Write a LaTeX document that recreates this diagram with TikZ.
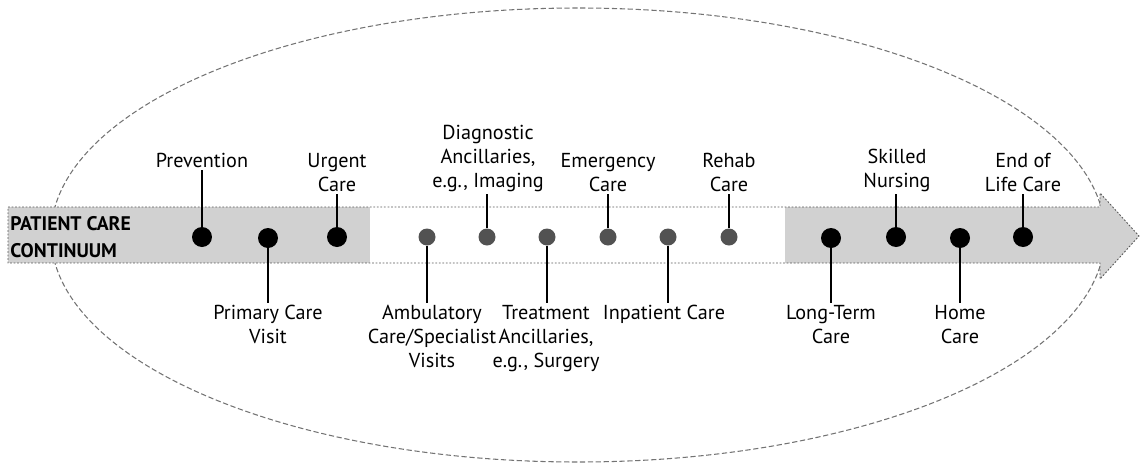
\documentclass[tikz,border=0pt]{standalone}
\usepackage{fontspec}
\setmainfont{PT Sans}
\begin{document}
\begin{tikzpicture}[x=0.02cm,y=-0.02cm,
  lbl/.style={font=\fontsize{11.5pt}{13.7pt}\selectfont, align=center, inner sep=1pt},
  bdot/.style={circle, fill=black, minimum size=0.4cm, inner sep=0pt},
  gdot/.style={circle, fill=black!68, minimum size=0.34cm, inner sep=0pt},
  stem/.style={line width=1.5pt},
  gstem/.style={line width=1.2pt},
  band/.style={fill=black!18, draw=none},
  bandedge/.style={draw=black!65, line width=0.5pt, dash pattern=on 1pt off 1pt},
  oval/.style={draw=black!55, line width=0.6pt, dash pattern=on 3pt off 1.5pt}
]
\useasboundingbox (0,0) rectangle (1140,467);
% ellipse
\draw[oval] (578,235) ellipse [x radius=527, y radius=227];
% band
\fill[band] (8,207) rectangle (370,263);
\fill[band] (785,207) -- (1100,207) -- (1100,193) -- (1139,236) -- (1100,279) -- (1100,263) -- (785,263) -- cycle;
\draw[bandedge] (8,207) -- (1100,207) -- (1100,193) -- (1139,236) -- (1100,279) -- (1100,263) -- (8,263) -- cycle;
\node[anchor=west, align=left, font=\bfseries\fontsize{11.2pt}{15pt}\selectfont, inner sep=0pt] (title) at (10,237) {PATIENT CARE\\CONTINUUM};
% dots
\node[bdot] (d1) at (202,237) {};
\node[bdot] (d2) at (268,238) {};
\node[bdot] (d3) at (337,237) {};
\node[gdot] (d4) at (427,237) {};
\node[gdot] (d5) at (487,237) {};
\node[gdot] (d6) at (547,237) {};
\node[gdot] (d7) at (608,237) {};
\node[gdot] (d8) at (668,237) {};
\node[gdot] (d9) at (729,237) {};
\node[bdot] (d10) at (831,238) {};
\node[bdot] (d11) at (896,237) {};
\node[bdot] (d12) at (960,238) {};
\node[bdot] (d13) at (1023,237) {};
% top labels
\node[lbl, anchor=south] (l1) at (202,170) {Prevention};
\node[lbl, anchor=south] (l3) at (337,194) {Urgent\\Care};
\node[lbl, anchor=south] (l5) at (488,194) {Diagnostic\\Ancillaries,\\e.g., Imaging};
\node[lbl, anchor=south] (l7) at (608,194) {Emergency\\Care};
\node[lbl, anchor=south] (l9) at (729,194) {Rehab\\Care};
\node[lbl, anchor=south] (l11) at (897,194) {Skilled\\Nursing};
\node[lbl, anchor=south] (l13) at (1023,194) {End of\\Life Care};
% bottom labels
\node[lbl, anchor=north] (l2) at (268,303) {Primary Care\\Visit};
\node[lbl, anchor=north] (l4) at (432,303) {Ambulatory\\Care/Specialist\\Visits};
\node[lbl, anchor=north] (l6) at (546,303) {Treatment\\Ancillaries,\\e.g., Surgery};
\node[lbl, anchor=north] (l8) at (664,303) {Inpatient Care};
\node[lbl, anchor=north] (l10) at (831,303) {Long-Term\\Care};
\node[lbl, anchor=north] (l12) at (960,303) {Home\\Care};
% stems
\draw[stem] (d1) -- (d1 |- l1.south);
\draw[stem] (d3) -- (d3 |- l3.south);
\draw[gstem] (d5) -- (d5 |- l5.south);
\draw[gstem] (d7) -- (d7 |- l7.south);
\draw[gstem] (d9) -- (d9 |- l9.south);
\draw[stem] (d11) -- (d11 |- l11.south);
\draw[stem] (d13) -- (d13 |- l13.south);
\draw[stem] (d2) -- (d2 |- l2.north);
\draw[gstem] (d4) -- (d4 |- l4.north);
\draw[gstem] (d6) -- (d6 |- l6.north);
\draw[gstem] (d8) -- (d8 |- l8.north);
\draw[stem] (d10) -- (d10 |- l10.north);
\draw[stem] (d12) -- (d12 |- l12.north);
\end{tikzpicture}
\end{document}
